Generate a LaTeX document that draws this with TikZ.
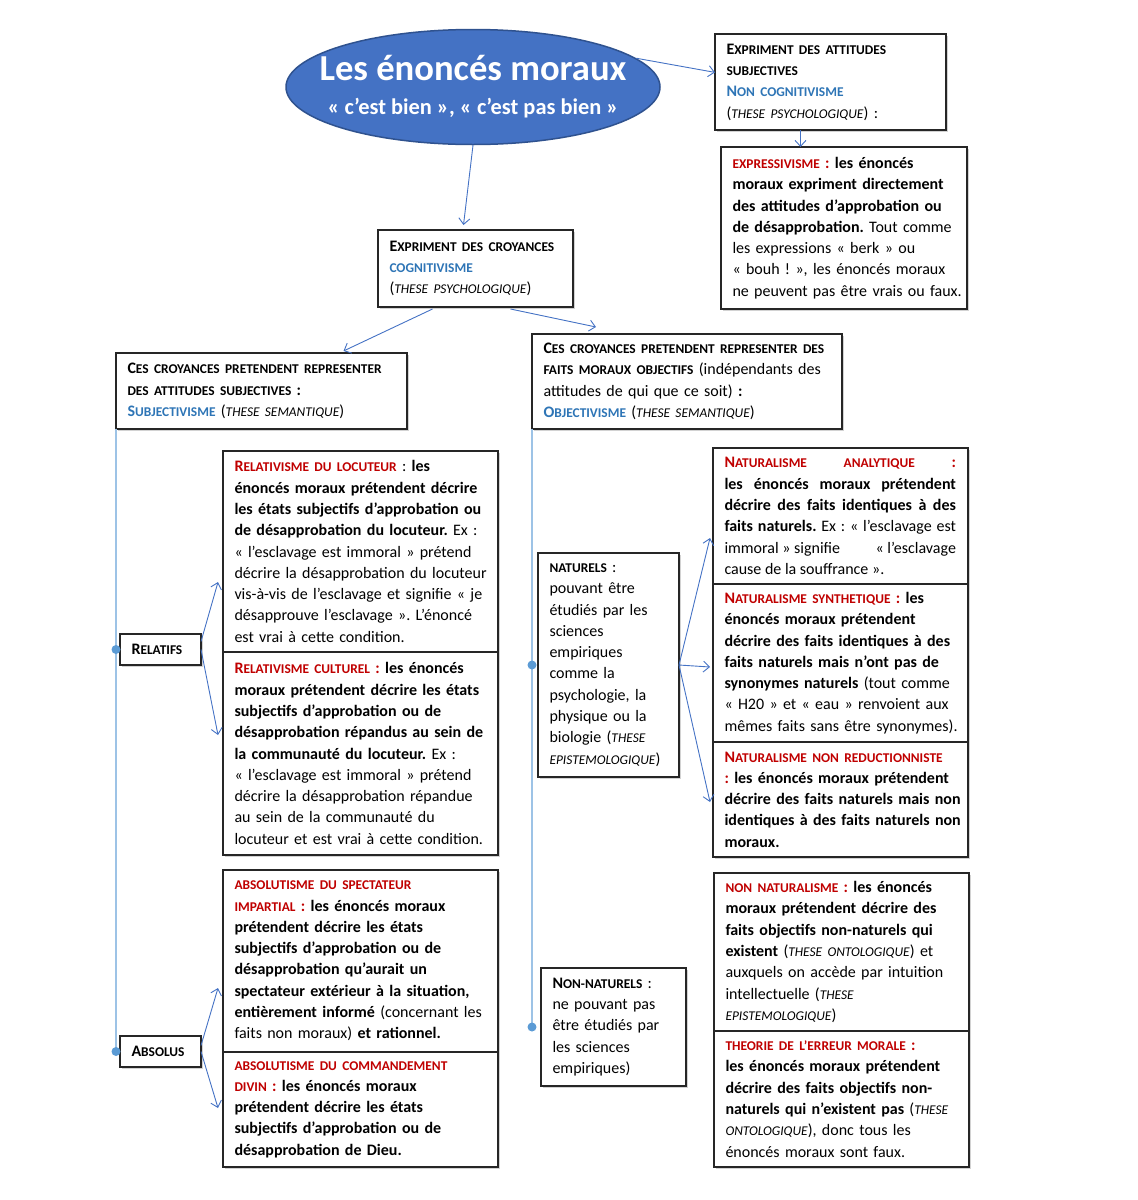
\documentclass[tikz,border=0pt]{standalone}
\usepackage{fontspec}
\setmainfont{Carlito}
\usetikzlibrary{arrows.meta,positioning,calc,shapes.geometric,shadows}

\definecolor{ovalblue}{HTML}{4472C4}
\definecolor{ovaledge}{HTML}{2F528F}
\definecolor{headred}{HTML}{C00000}
\definecolor{headblue}{HTML}{2E75B6}
\definecolor{arrowblue}{HTML}{4472C4}
\definecolor{railblue}{HTML}{9DC3E6}
\definecolor{dotblue}{HTML}{5B9BD5}

\newcommand{\pcap}[1]{{\fontsize{13.4}{21.3}\selectfont #1}}
\newcommand{\rouge}[1]{{\color{headred}#1}}
\newcommand{\bleu}[1]{{\color{headblue}#1}}

\frenchspacing
\hyphenpenalty=10000
\exhyphenpenalty=10000

\tikzset{
  box/.style 2 args={draw=black!85, line width=1.1pt, fill=white, anchor=north west,
    outer sep=0pt, minimum width=#1, minimum height=#2, text width=#1-8,
    inner xsep=4pt, inner ysep=2pt, align=left,
    font=\fontsize{16}{21.3}\selectfont,
    execute at begin node={\leftskip=7.5pt\rightskip=0pt plus 1fil minus 8pt\relax},
    drop shadow={shadow xshift=1.5pt, shadow yshift=-1.5pt, fill=black!35}},
  arr/.style={draw=arrowblue, line width=0.9pt, -{Straight Barb[length=6pt,width=11pt]}},
  rail/.style={draw=railblue, line width=1.4pt}
}

\begin{document}
\begin{tikzpicture}[x=1pt, y=-1pt]
\useasboundingbox (0,0) rectangle (1138,1200);

% Title oval
\node[ellipse, fill=ovalblue, draw=ovaledge, line width=1.5pt, minimum width=374,
  minimum height=115, text=white, align=center, inner xsep=-25pt, inner ysep=0pt,
  font=\fontsize{22.4}{34}\selectfont\bfseries] (moraux) at (473,87)
  {{\fontsize{36.6}{40}\selectfont Les énoncés moraux}\\
   « c’est bien », « c’est pas bien »};

% Non-cognitivism
\node[box={231}{96}] (subj) at (715,34)
  {\textbf{E\pcap{XPRIMENT DES ATTITUDES}}\\
   \textbf{\pcap{SUBJECTIVES}}\\
   \bleu{\textbf{N\pcap{ON COGNITIVISME}}}\\
   (\textit{\pcap{THESE PSYCHOLOGIQUE}})~:};
\node[box={246}{162}] (expr) at (721,147)
  {\rouge{\textbf{\pcap{EXPRESSIVISME}~:}} \textbf{les énoncés}\\
   \textbf{moraux expriment directement}\\
   \textbf{des attitudes d’approbation ou}\\
   \textbf{de désapprobation.} Tout comme\\
   les expressions «~berk~» ou\\
   «~bouh~!~», les énoncés moraux\\
   ne peuvent pas être vrais ou faux.};

% Cognitivism
\node[box={195}{77}] (croy) at (378,230)
  {\textbf{E\pcap{XPRIMENT DES CROYANCES}}\\
   \bleu{\textbf{\pcap{COGNITIVISME}}}\\
   (\textit{\pcap{THESE PSYCHOLOGIQUE}})};
\node[box={291}{76}] (subjv) at (116,353)
  {\textbf{C\pcap{ES CROYANCES PRETENDENT REPRESENTER}}\\
   \textbf{\pcap{DES ATTITUDES SUBJECTIVES}~:}\\
   \bleu{\textbf{S\pcap{UBJECTIVISME}}} (\textit{\pcap{THESE SEMANTIQUE}})};
\node[box={310}{95}] (objv) at (532,334)
  {\textbf{C\pcap{ES CROYANCES PRETENDENT REPRESENTER DES}}\\
   \textbf{\pcap{FAITS MORAUX OBJECTIFS}} (indépendants des\\
   attitudes de qui que ce soit)~\textbf{:}\\
   \bleu{\textbf{O\pcap{BJECTIVISME}}} (\textit{\pcap{THESE SEMANTIQUE}})};

% Subjectivism
\node[box={81}{31}] (relatifs) at (120,634) {\textbf{R\pcap{ELATIFS}}};
\node[box={275}{201}] (loc) at (223,451)
  {\rouge{\textbf{R\pcap{ELATIVISME DU LOCUTEUR}}}~: \textbf{les}\\
   \textbf{énoncés moraux prétendent décrire}\\
   \textbf{les états subjectifs d’approbation ou}\\
   \textbf{de désapprobation du locuteur.} Ex~:\\
   «~l’esclavage est immoral~» prétend\\
   décrire la désapprobation du locuteur\\
   vis-à-vis de l’esclavage et signifie «~je\\
   désapprouve l’esclavage~». L’énoncé\\
   est vrai à cette condition.};
\node[box={275}{203}] (cult) at (loc.south west)
  {\rouge{\textbf{R\pcap{ELATIVISME CULTUREL}~:}} \textbf{les énoncés}\\
   \textbf{moraux prétendent décrire les états}\\
   \textbf{subjectifs d’approbation ou de}\\
   \textbf{désapprobation répandus au sein de}\\
   \textbf{la communauté du locuteur.} Ex~:\\
   «~l’esclavage est immoral~» prétend\\
   décrire la désapprobation répandue\\
   au sein de la communauté du\\
   locuteur et est vrai à cette condition.};
\node[box={81}{31}] (absolus) at (120,1036) {\textbf{A\pcap{BSOLUS}}};
\node[box={275}{182}] (spect) at (223,870)
  {\rouge{\textbf{\pcap{ABSOLUTISME DU SPECTATEUR}}}\\
   \rouge{\textbf{\pcap{IMPARTIAL}~:}} \textbf{les énoncés moraux}\\
   \textbf{prétendent décrire les états}\\
   \textbf{subjectifs d’approbation ou de}\\
   \textbf{désapprobation qu’aurait un}\\
   \textbf{spectateur extérieur à la situation,}\\
   \textbf{entièrement informé} (concernant les\\
   faits non moraux) \textbf{et rationnel.}};
\node[box={275}{115}] (cmd) at (spect.south west)
  {\rouge{\textbf{\pcap{ABSOLUTISME DU COMMANDEMENT}}}\\
   \rouge{\textbf{\pcap{DIVIN}~:}} \textbf{les énoncés moraux}\\
   \textbf{prétendent décrire les états}\\
   \textbf{subjectifs d’approbation ou de}\\
   \textbf{désapprobation de Dieu.}};

% Objectivism
\node[box={141}{224}] (natur) at (538,553)
  {\textbf{\pcap{NATURELS}}~:\\
   pouvant être\\
   étudiés par les\\
   sciences\\
   empiriques\\
   comme la\\
   psychologie, la\\
   physique ou la\\
   biologie (\textit{\pcap{THESE}}\\
   \textit{\pcap{EPISTEMOLOGIQUE}})};
\node[box={145}{118}] (nonnat) at (541,968)
  {\textbf{N\pcap{ON-NATURELS}}~:\\
   ne pouvant pas\\
   être étudiés par\\
   les sciences\\
   empiriques)};
\node[box={255}{136}, align=justify,
  execute at begin node={\leftskip=7.5pt\rightskip=8pt\relax}] (analyt) at (713,448)
  {\rouge{\textbf{N\pcap{ATURALISME} \pcap{ANALYTIQUE} :}}\linebreak
   \textbf{les énoncés moraux prétendent}\linebreak
   \textbf{décrire des faits identiques à des}\linebreak
   \textbf{faits naturels.} Ex~: «~l’esclavage est\linebreak
   immoral~» signifie\hfill «~l’esclavage\linebreak
   cause de la souffrance~».};
\node[box={255}{158}] (synth) at (analyt.south west)
  {\rouge{\textbf{N\pcap{ATURALISME SYNTHETIQUE}~:}} \textbf{les}\\
   \textbf{énoncés moraux prétendent}\\
   \textbf{décrire des faits identiques à des}\\
   \textbf{faits naturels mais n’ont pas de}\\
   \textbf{synonymes naturels} (tout comme\\
   «~H20~» et «~eau~» renvoient aux\\
   mêmes faits sans être synonymes).};
\node[box={255}{115}] (reduc) at (synth.south west)
  {\rouge{\textbf{N\pcap{ATURALISME NON REDUCTIONNISTE}}}\\
   \rouge{\textbf{:}} \textbf{les énoncés moraux prétendent}\\
   \textbf{décrire des faits naturels mais non}\\
   \textbf{identiques à des faits naturels non}\\
   \textbf{moraux.}};
\node[box={255}{158}] (nonnatu) at (714,873)
  {\rouge{\textbf{\pcap{NON NATURALISME}~:}} \textbf{les énoncés}\\
   \textbf{moraux prétendent décrire des}\\
   \textbf{faits objectifs non-naturels qui}\\
   \textbf{existent} (\textit{\pcap{THESE ONTOLOGIQUE}}) et\\
   auxquels on accède par intuition\\
   intellectuelle (\textit{\pcap{THESE}}\\
   \textit{\pcap{EPISTEMOLOGIQUE}})};
\node[box={255}{136}] (erreur) at (nonnatu.south west)
  {\rouge{\textbf{\pcap{THEORIE DE L’ERREUR MORALE}~:}}\\
   \textbf{les énoncés moraux prétendent}\\
   \textbf{décrire des faits objectifs non-}\\
   \textbf{naturels qui n’existent pas} (\textit{\pcap{THESE}}\\
   \textit{\pcap{ONTOLOGIQUE}}), donc tous les\\
   énoncés moraux sont faux.};

% Arrows from the oval and the top boxes
\draw[arr] (moraux.10) -- ($(subj.north west)!0.4!(subj.south west)$);
\draw[arr] ([xshift=-30pt]subj.south) -- ([xshift=-30pt]subj.south |- expr.north);
\draw[arr] (moraux.south) -- ($(croy.north)+(-12,-5)$);
\draw[arr] ($(croy.south)+(-43,2)$) -- ($(subjv.north)+(82,-2)$);
\draw[arr] ($(croy.south)+(35,2)$) -- ($(objv.north)+(-91,-7)$);

% Rails with dots
\draw[rail] (subjv.south west) -- (subjv.south west |- absolus.west);
\fill[dotblue] (subjv.south west |- relatifs.west) circle[radius=4.5pt];
\fill[dotblue] (subjv.south west |- absolus.west) circle[radius=4.5pt];
\draw[rail] (objv.south west) -- (objv.south west |- nonnat.west);
\fill[dotblue] (objv.south west |- natur.west) circle[radius=4.5pt];
\fill[dotblue] (objv.south west |- nonnat.west) circle[radius=4.5pt];

% Fans
\draw[arr] ($(relatifs.east)+(0,-8)$) -- ($(loc.south west)+(-5,-70)$);
\draw[arr] (relatifs.east) -- ($(cult.north west)+(-5,83)$);
\draw[arr] ($(absolus.east)+(0,-6)$) -- ($(spect.south west)+(-5,-64)$);
\draw[arr] (absolus.east) -- ($(cmd.north west)+(-5,56)$);
\draw[arr] (natur.east) -- ($(analyt.south west)+(-3,-46)$);
\draw[arr] (natur.east) -- ($(synth.west)+(-3,4)$);
\draw[arr] (natur.east) -- ($(reduc.north west)+(-3,60)$);
\end{tikzpicture}
\end{document}
